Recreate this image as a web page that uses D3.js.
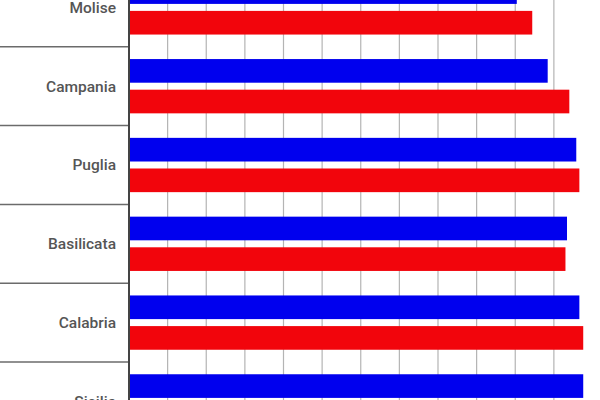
<!DOCTYPE html>
<html>
<head>
<meta charset="utf-8">
<script src="https://cdn.jsdelivr.net/npm/d3@7"></script>
<style>
html,body{margin:0;padding:0;background:#fff;}
svg{display:block;}
</style>
</head>
<body>
<svg id="chart" width="600" height="400"></svg>
<script>
const regions = ["Molise","Campania","Puglia","Basilicata","Calabria","Sicilia"];
const seriesNames = ["blu","rosso"];
const blueValues = [50.2, 54.2, 57.9, 56.7, 58.3, 58.8];
const redValues  = [52.2, 57.0, 58.3, 56.5, 58.8, 58.9];
const seriesColors = ["#0000ee","#f2050c"];
const tickValues = [5,10,15,20,25,30,35,40,45,50,55];

const svg = d3.select("#chart");
const left = 129, right = 584;
const bandTop = -32, bandStep = 78.8;

const x = d3.scaleLinear().domain([0, d3.max(redValues.concat(blueValues))]).range([left, right]);
const y0 = d3.scaleBand().domain(regions).range([bandTop, bandTop + bandStep*regions.length]);
const y1 = d3.scaleBand().domain(seriesNames).range([0, y0.bandwidth()]).paddingInner(0.228).paddingOuter(0.4);

// grid lines
svg.append("g").selectAll("line").data(tickValues).join("line")
  .attr("x1", d => x(d)).attr("x2", d => x(d))
  .attr("y1", 0).attr("y2", 400)
  .attr("stroke", "#b4b4b4").attr("stroke-width", 1.2);

// bars
const data = regions.map((r,i) => ({region:r, values:[blueValues[i], redValues[i]]}));
const g = svg.append("g").selectAll("g").data(data).join("g")
  .attr("transform", d => `translate(0,${y0(d.region)})`);
g.selectAll("rect").data(d => d.values.map((v,j) => ({key:seriesNames[j], v, c:seriesColors[j]})))
  .join("rect")
  .attr("x", x(0))
  .attr("y", d => y1(d.key))
  .attr("width", d => x(d.v) - x(0))
  .attr("height", y1.bandwidth())
  .attr("fill", d => d.c);

// category separators
const seps = regions.slice(1);
svg.append("g").selectAll("line").data(seps).join("line")
  .attr("x1", 0).attr("x2", left)
  .attr("y1", d => y0(d)).attr("y2", d => y0(d))
  .attr("stroke", "#6b6b6b").attr("stroke-width", 1.5);

// labels
svg.append("g").selectAll("text").data(regions).join("text")
  .attr("x", 116)
  .attr("y", d => y0(d) + y0.bandwidth()/2)
  .attr("dy", "0.35em")
  .attr("text-anchor", "end")
  .attr("font-family", "Roboto, 'Noto Sans', sans-serif")
  .attr("font-weight", 500)
  .attr("font-size", 15.5)
  .attr("fill", "#555")
  .text(d => d);

// axis line
svg.append("line")
  .attr("x1", left).attr("x2", left).attr("y1", 0).attr("y2", 400)
  .attr("stroke", "#444").attr("stroke-width", 2);
</script>
</body>
</html>
